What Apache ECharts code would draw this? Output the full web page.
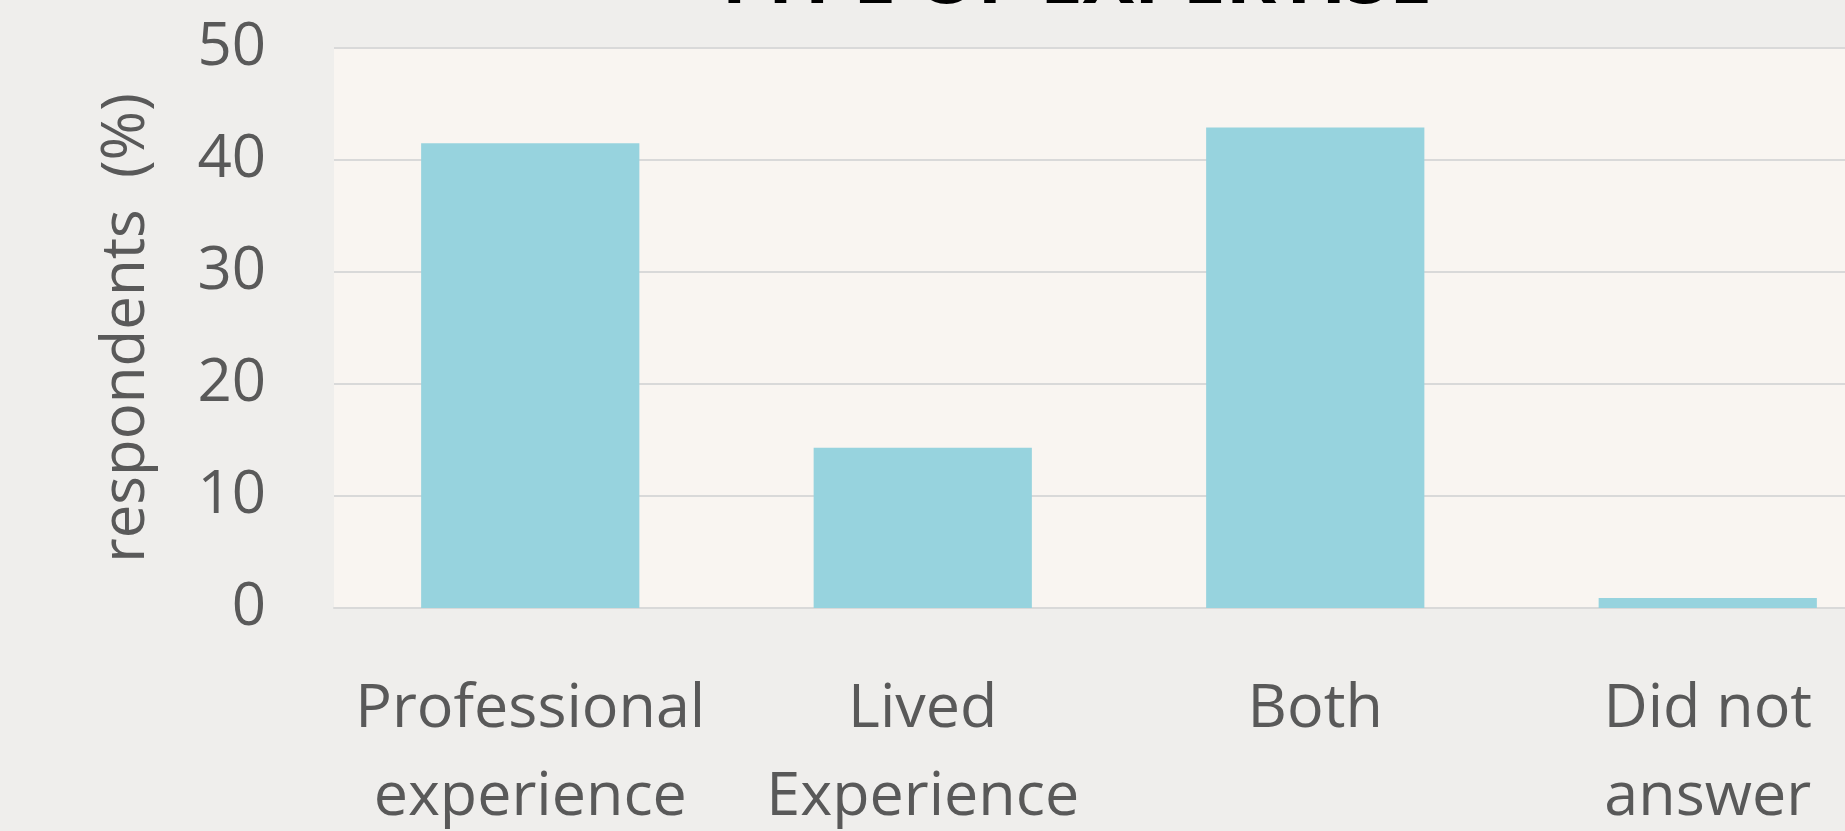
<!DOCTYPE html>
<html>
<head>
<meta charset="utf-8">
<script src="https://cdn.jsdelivr.net/npm/echarts@6/dist/echarts.min.js"></script>
<style>
html,body{margin:0;padding:0;background:#efeeec;}
#chart{width:1845px;height:831px;}
</style>
</head>
<body>
<div id="chart"></div>
<script>
const titleText = 'TYPE OF EXPERTISE';
const yAxisName = 'respondents  (%)';
const categories = ['Professional\nexperience', 'Lived\nExperience', 'Both', 'Did not\nanswer'];
const values = [41.5, 14.3, 42.9, 0.9];
const yTicks = {min: 0, max: 50, interval: 10};

const chart = echarts.init(document.getElementById('chart'));
const font = '"Open Sans", "Noto Sans", sans-serif';
chart.setOption({
  backgroundColor: '#efeeec',
  animation: false,
  title: {
    text: titleText,
    left: 1067,
    textAlign: 'center',
    top: -62,
    textStyle: {fontFamily: font, fontWeight: 'bold', fontSize: 77, color: '#000000'}
  },
  grid: {
    left: 334, top: 48, width: 1570, bottom: 223,
    outerBoundsMode: 'none', containLabel: false,
    show: true, backgroundColor: '#f9f5f1', borderWidth: 0
  },
  xAxis: {
    type: 'category',
    data: categories,
    axisLine: {show: true, lineStyle: {color: '#d9d9d9', width: 2}},
    axisTick: {show: false},
    axisLabel: {
      interval: 0, margin: 58, color: '#595959',
      fontFamily: font, fontSize: 61, lineHeight: 88
    }
  },
  yAxis: {
    type: 'value',
    min: yTicks.min, max: yTicks.max, interval: yTicks.interval,
    name: yAxisName,
    nameLocation: 'middle',
    nameGap: 177,
    nameTextStyle: {fontFamily: font, fontSize: 60, color: '#595959'},
    axisLine: {show: false},
    axisTick: {show: false},
    splitLine: {lineStyle: {color: '#d9d9d9', width: 2}},
    axisLabel: {margin: 68, color: '#595959', fontFamily: font, fontSize: 60}
  },
  series: [{
    type: 'bar',
    data: values,
    barWidth: '55.6%',
    itemStyle: {color: '#97d3de'}
  }]
});
</script>
</body>
</html>
